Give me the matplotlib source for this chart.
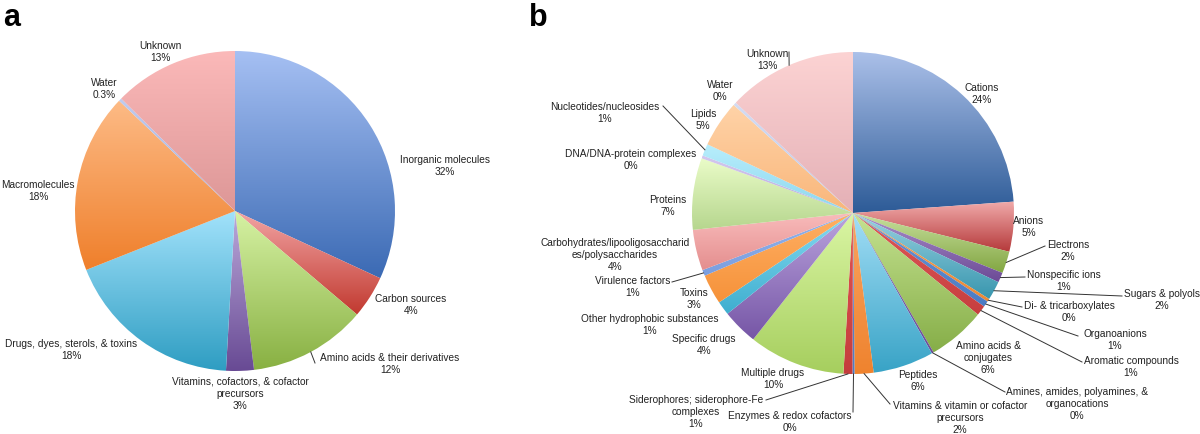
import numpy as np
import matplotlib
matplotlib.use("Agg")
import matplotlib.pyplot as plt
from matplotlib.colors import LinearSegmentedColormap

W, H = 1200, 435
plt.rcParams['font.family'] = ['Liberation Sans', 'DejaVu Sans']

# ---- panel a data ----
a_names = ["Inorganic molecules", "Carbon sources", "Amino acids & their derivatives",
           "Vitamins, cofactors, & cofactor\nprecursors", "Drugs, dyes, sterols, & toxins",
           "Macromolecules", "Water", "Unknown"]
a_pct = ["32%", "4%", "12%", "3%", "18%", "18%", "0.3%", "13%"]
a_values = [31.9, 4.3, 11.9, 2.8, 18.1, 18.1, 0.3, 12.6]
a_top = ["#a6c0f3", "#f2a4a4", "#d6f2a4", "#bba9da", "#a2e2fb", "#fdbb86", "#c0cbee", "#fbb9b9"]
a_bot = ["#3b6ab4", "#c1392f", "#88b042", "#684a94", "#2e9dc2", "#ef7f2b", "#a3b2de", "#dd9797"]

# ---- panel b data ----
b_names = ["Cations", "Anions", "Electrons", "Nonspecific ions", "Sugars & polyols",
           "Di- & tricarboxylates", "Organoanions", "Aromatic compounds",
           "Amino acids &\nconjugates", "Amines, amides, polyamines, &\norganocations",
           "Peptides", "Vitamins & vitamin or cofactor\nprecursors", "Enzymes & redox cofactors",
           "Siderophores; siderophore-Fe\ncomplexes", "Multiple drugs", "Specific drugs",
           "Other hydrophobic substances", "Toxins", "Virulence factors",
           "Carbohydrates/lipooligosaccharid\nes/polysaccharides", "Proteins",
           "DNA/DNA-protein complexes", "Nucleotides/nucleosides", "Lipids", "Water", "Unknown"]
b_pct = ["24%", "5%", "2%", "1%", "2%", "0%", "1%", "1%", "6%", "0%", "6%", "2%", "0%",
         "1%", "10%", "4%", "1%", "3%", "1%", "4%", "7%", "0%", "1%", "5%", "0%", "13%"]
b_values = [23.9, 5.0, 2.2, 1.0, 1.9, 0.3, 0.6, 1.0, 5.8, 0.2, 6.1, 1.9, 0.2,
            0.9, 9.7, 3.6, 1.4, 3.0, 0.6, 4.1, 7.2, 0.3, 1.2, 4.7, 0.3, 13.0]
b_top = ["#abc0e9", "#f1abab", "#c8e09e", "#ab90cb", "#9ad2e2", "#f59c4c", "#6a96d6",
         "#e05a5a", "#c6e392", "#8464ad", "#a3def6", "#f9a462", "#6a96d6", "#e45555",
         "#daf6a4", "#bba4de", "#86daf1", "#ffb064", "#94b4ea", "#f9bcbc", "#eafcc8",
         "#d4c8ee", "#b8eefc", "#ffd3a8", "#d4dcf2", "#fcd3d3"]
b_bot = ["#2d5b97", "#b5393a", "#82a642", "#6c4a96", "#3896ae", "#ee8a36", "#4b7cc4",
         "#c63e3e", "#86ae48", "#6e4e9a", "#38a3c6", "#ef832e", "#4b7cc4", "#c43c3c",
         "#a6ce5e", "#7656a6", "#3eaecf", "#f6923a", "#7a9ee0", "#e48e8e", "#b6d68e",
         "#b8aade", "#8cd6ee", "#f9b67a", "#bcc8e8", "#e4b0b6"]

# ---- layout (pixel coords, y from top) ----
a_center, a_radius = (235, 212), 160
b_center, b_radius = (853, 214), 161
a_label_xy = [(445, 166), (411, 305), (390, 364), (240, 394), (71, 350), (38, 191),
              (104, 89), (160, 52)]
a_leaders = {2: (315, 364)}
b_label_xy = [(982, 94), (1029, 227), (1068, 251), (1064, 281), (1162, 300), (1069, 312),
              (1115, 340), (1131, 367), (988, 358), (1077, 404), (918, 381), (960, 418),
              (790, 422), (696, 412), (773, 379), (704, 345), (650, 325), (694, 299),
              (633, 287), (615, 255), (668, 206), (631, 160), (605, 113), (703, 120),
              (720, 91), (767, 60)]
b_leaders = {25: (789, 53), 22: (663, 107), 18: (672, 283), 13: (766, 401), 12: (853, 413),
             11: (890, 405), 9: (1005, 393), 7: (1082, 363), 6: (1078, 337), 5: (1022, 308),
             4: (1122, 297), 3: (1025, 278), 2: (1045, 247)}

FS = 7.3
PITCH = 12
TXT = "#222222"


def gradient_fill(ax, w, c_top, c_bot):
    cx, cy = w.center
    t = np.radians(np.linspace(w.theta1, w.theta2, 200))
    xs = np.concatenate([[cx], cx + w.r * np.cos(t)])
    ys = np.concatenate([[cy], cy + w.r * np.sin(t)])
    cmap = LinearSegmentedColormap.from_list("g", [c_bot, c_top])
    grad = np.linspace(0, 1, 256)[:, None]
    im = ax.imshow(grad, cmap=cmap, origin="lower", aspect="auto", interpolation="bilinear",
                   extent=(xs.min(), xs.max(), ys.min(), ys.max()), zorder=1)
    im.set_clip_path(w)
    w.set_facecolor("none")


def draw_pie(ax, values, names, pct, tops, bots, center, radius, label_xy, leaders):
    c = (center[0], H - center[1])
    wedges, _ = ax.pie(values, center=c, radius=radius, startangle=90, counterclock=False,
                       wedgeprops=dict(linewidth=0, edgecolor="none"))
    for w, ct, cb in zip(wedges, tops, bots):
        gradient_fill(ax, w, ct, cb)
    for i, (name, p) in enumerate(zip(names, pct)):
        x, y = label_xy[i]
        lines = f"{name}\n{p}".split("\n")
        n = len(lines)
        for k, line in enumerate(lines):
            yy = y + (k - (n - 1) / 2) * PITCH
            ax.text(x, H - yy, line, ha="center", va="center", fontsize=FS,
                    color=TXT, zorder=5)
    for i, (ex, ey) in leaders.items():
        w = wedges[i]
        mid = np.radians((w.theta1 + w.theta2) / 2)
        sx = c[0] + radius * np.cos(mid)
        sy = c[1] + radius * np.sin(mid)
        ax.plot([sx, ex], [sy, H - ey], color="#333333", lw=0.7, zorder=4)


fig = plt.figure(figsize=(W / 100, H / 100), dpi=100)
ax = fig.add_axes([0, 0, 1, 1])

draw_pie(ax, a_values, a_names, a_pct, a_top, a_bot, a_center, a_radius, a_label_xy, a_leaders)
draw_pie(ax, b_values, b_names, b_pct, b_top, b_bot, b_center, b_radius, b_label_xy, b_leaders)

ax.text(3, H - 18, "a", fontsize=22, fontweight="bold", va="center", ha="left")
ax.text(529, H - 18, "b", fontsize=22, fontweight="bold", va="center", ha="left")

ax.set_xlim(0, W)
ax.set_ylim(0, H)
ax.set_aspect("equal")
ax.axis("off")

fig.savefig("out.png", dpi=100)
